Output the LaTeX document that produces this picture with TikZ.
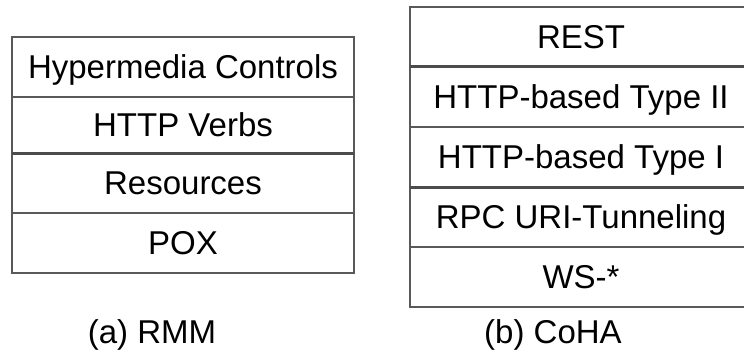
\documentclass[tikz,border=0pt]{standalone}
\usepackage{fontspec}
\setmainfont{Liberation Sans}
\usetikzlibrary{positioning}

\tikzset{
  layer/.style={draw=black!65, line width=1.5pt, minimum width=342pt, inner sep=0pt, outer sep=0pt,
    text height=23.6pt, text depth=0pt, font=\fontsize{33}{40}\selectfont},
  thickrule/.style={draw=black!70, line width=3pt},
  caption/.style={font=\fontsize{33}{40}\selectfont, text height=23.6pt, text depth=0pt, inner sep=0pt}
}

\begin{document}
\begin{tikzpicture}[x=1pt, y=1pt]
  \useasboundingbox (0,0) rectangle (744,-350);

  % (a) RMM stack
  \node[layer, minimum height=60pt] (hyper) at (183,-67) {Hypermedia Controls};
  \node[layer, minimum height=56pt, below=0pt of hyper] (verbs) {HTTP Verbs};
  \node[layer, minimum height=60pt, below=0pt of verbs] (res) {Resources};
  \node[layer, minimum height=60pt, below=0pt of res] (pox) {POX};
  \draw[thickrule] (verbs.south west) -- (verbs.south east);

  % (b) CoHA stack
  \node[layer, minimum height=60pt] (rest) at (581,-37) {REST};
  \node[layer, minimum height=60pt, below=0pt of rest] (typetwo) {HTTP-based Type II};
  \node[layer, minimum height=60pt, below=0pt of typetwo] (typeone) {HTTP-based Type I};
  \node[layer, minimum height=60pt, below=0pt of typeone] (rpc) {RPC URI-Tunneling};
  \node[layer, minimum height=60pt, below=0pt of rpc] (ws) {WS-*};
  \draw[thickrule] (rest.south west) -- (rest.south east);
  \draw[thickrule] (typeone.south west) -- (typeone.south east);

  % captions
  \node[caption] (capa) at (152,-332) {(a) RMM};
  \node[caption] (capb) at (553,-332) {(b) CoHA};
\end{tikzpicture}
\end{document}
